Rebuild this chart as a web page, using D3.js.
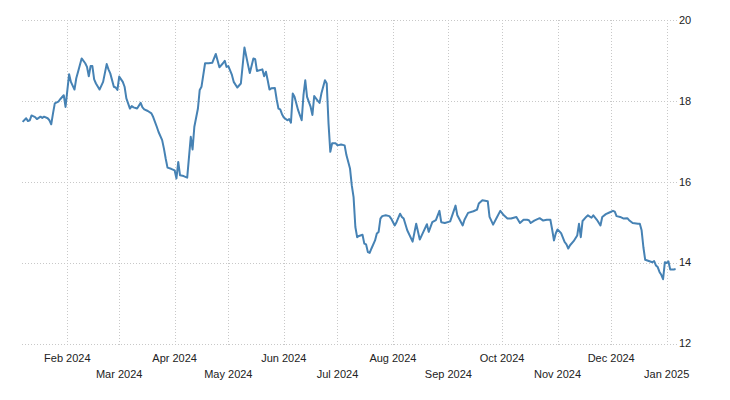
<!DOCTYPE html>
<html>
<head>
<meta charset="utf-8">
<script src="https://cdn.jsdelivr.net/npm/d3@7"></script>
<style>
  html, body { margin: 0; padding: 0; background: #fff; }
  svg { display: block; }
  text { font-family: "Liberation Sans", Arial, sans-serif; font-size: 11px; fill: #222; }
</style>
</head>
<body>
<svg id="chart" width="730" height="400"></svg>
<script>
const dates = [
"2024-01-07","2024-01-09","2024-01-10","2024-01-11","2024-01-12","2024-01-14","2024-01-15","2024-01-17","2024-01-18","2024-01-19",
"2024-01-21","2024-01-22","2024-01-23","2024-01-24","2024-01-25","2024-01-27","2024-01-28","2024-01-30","2024-01-31","2024-02-02",
"2024-02-03","2024-02-05","2024-02-06","2024-02-07","2024-02-09","2024-02-11","2024-02-12","2024-02-13","2024-02-14","2024-02-15",
"2024-02-16","2024-02-17","2024-02-19","2024-02-21","2024-02-23","2024-02-24","2024-02-25","2024-02-27","2024-02-28","2024-02-29",
"2024-03-01","2024-03-03","2024-03-04","2024-03-05","2024-03-07","2024-03-08","2024-03-09","2024-03-11","2024-03-13","2024-03-14",
"2024-03-15","2024-03-17","2024-03-19","2024-03-20","2024-03-22","2024-03-23","2024-03-25","2024-03-26","2024-03-27","2024-03-28",
"2024-03-30","2024-04-01","2024-04-02","2024-04-03","2024-04-04","2024-04-06","2024-04-08","2024-04-10","2024-04-11","2024-04-12",
"2024-04-14","2024-04-15","2024-04-16","2024-04-18","2024-04-20","2024-04-22","2024-04-24","2024-04-26","2024-04-28","2024-04-29",
"2024-04-30","2024-05-01","2024-05-03","2024-05-04","2024-05-06","2024-05-08","2024-05-10","2024-05-12","2024-05-13","2024-05-15",
"2024-05-16","2024-05-17","2024-05-20","2024-05-21","2024-05-22","2024-05-23","2024-05-24","2024-05-25","2024-05-27","2024-05-28",
"2024-05-29","2024-05-30","2024-05-31","2024-06-01","2024-06-03","2024-06-04","2024-06-05","2024-06-06","2024-06-07","2024-06-09",
"2024-06-11","2024-06-12","2024-06-13","2024-06-14","2024-06-16","2024-06-17","2024-06-18","2024-06-20","2024-06-21","2024-06-22",
"2024-06-24","2024-06-25","2024-06-26","2024-06-27","2024-06-28","2024-06-30","2024-07-01","2024-07-03","2024-07-05","2024-07-06",
"2024-07-08","2024-07-09","2024-07-10","2024-07-11","2024-07-12","2024-07-13","2024-07-15","2024-07-16","2024-07-17","2024-07-18",
"2024-07-19","2024-07-20","2024-07-22","2024-07-23","2024-07-24","2024-07-25","2024-07-26","2024-07-28","2024-07-30","2024-07-31",
"2024-08-02","2024-08-03","2024-08-05","2024-08-06","2024-08-07","2024-08-09","2024-08-12","2024-08-14","2024-08-16","2024-08-18",
"2024-08-20","2024-08-21","2024-08-23","2024-08-25","2024-08-27","2024-08-28","2024-08-30","2024-09-02","2024-09-05","2024-09-06",
"2024-09-09","2024-09-10","2024-09-12","2024-09-15","2024-09-17","2024-09-18","2024-09-20","2024-09-23","2024-09-24","2024-09-26",
"2024-09-28","2024-09-30","2024-10-02","2024-10-04","2024-10-06","2024-10-09","2024-10-11","2024-10-13","2024-10-15","2024-10-16",
"2024-10-17","2024-10-19","2024-10-22","2024-10-24","2024-10-26","2024-10-28","2024-10-29","2024-10-30","2024-10-31","2024-11-01",
"2024-11-03","2024-11-05","2024-11-06","2024-11-07","2024-11-08","2024-11-10","2024-11-12","2024-11-13","2024-11-14","2024-11-15",
"2024-11-17","2024-11-18","2024-11-20","2024-11-21","2024-11-23","2024-11-25","2024-11-26","2024-11-28","2024-11-30","2024-12-02",
"2024-12-03","2024-12-04","2024-12-06","2024-12-08","2024-12-10","2024-12-11","2024-12-13","2024-12-16","2024-12-17","2024-12-18",
"2024-12-19","2024-12-20","2024-12-22","2024-12-24","2024-12-25","2024-12-26","2024-12-27","2024-12-28","2024-12-29","2024-12-30",
"2024-12-31","2025-01-01","2025-01-02","2025-01-03","2025-01-05","2025-01-06"
];
const values = [
17.48,17.57,17.50,17.52,17.64,17.60,17.55,17.61,17.58,17.61,
17.57,17.52,17.42,17.69,17.94,17.98,18.04,18.14,17.85,18.66,
18.47,18.28,18.56,18.72,19.05,18.93,18.84,18.61,18.86,18.86,
18.53,18.43,18.28,18.47,18.91,18.78,18.68,18.35,18.33,18.27,
18.60,18.47,18.35,18.06,17.81,17.87,17.84,17.81,17.95,17.84,
17.79,17.75,17.69,17.60,17.36,17.23,17.03,16.82,16.57,16.35,
16.32,16.28,16.08,16.49,16.16,16.14,16.10,17.11,16.80,17.36,
17.81,18.27,18.35,18.93,18.93,18.94,19.16,18.83,18.93,18.99,
18.84,18.86,18.64,18.47,18.33,18.43,19.32,18.89,18.69,19.05,
19.03,18.74,18.78,18.61,18.72,18.51,18.28,18.31,18.32,18.04,
17.81,17.79,17.67,17.59,17.52,17.55,17.46,18.18,18.10,17.77,
17.52,18.14,18.51,18.10,17.85,17.65,18.12,18.00,17.95,18.18,
18.51,18.43,17.44,16.74,16.95,16.95,16.90,16.92,16.90,16.66,
16.33,15.91,15.62,14.88,14.63,14.66,14.69,14.47,14.45,14.26,
14.24,14.35,14.55,14.72,14.76,15.09,15.15,15.17,15.15,15.09,
14.92,15.00,15.21,15.13,15.09,14.80,14.52,14.96,14.57,14.76,
14.95,14.76,15.00,15.05,15.28,15.00,14.98,15.02,15.41,15.17,
14.92,15.06,15.23,15.27,15.31,15.46,15.54,15.52,15.13,14.94,
15.11,15.28,15.17,15.09,15.09,15.13,14.98,15.06,15.06,15.05,
14.98,15.04,15.10,15.04,15.06,15.06,14.82,14.55,14.72,14.82,
14.73,14.51,14.45,14.35,14.43,14.53,14.67,14.96,14.63,15.03,
15.13,15.17,15.11,15.17,15.06,14.92,15.13,15.20,15.24,15.28,
15.26,15.15,15.13,15.09,15.10,15.05,14.98,14.96,14.96,14.80,
14.38,14.07,14.04,14.01,14.04,13.93,13.89,13.77,13.70,13.59,
14.01,13.99,14.03,13.83,13.83,13.84
];
const yTicks = [12, 14, 16, 18, 20];
const xTickDates = ["2024-02-01","2024-03-01","2024-04-01","2024-05-01","2024-06-01","2024-07-01",
                    "2024-08-01","2024-09-01","2024-10-01","2024-11-01","2024-12-01","2025-01-01"];
const xTickLabels = ["Feb 2024","Mar 2024","Apr 2024","May 2024","Jun 2024","Jul 2024",
                     "Aug 2024","Sep 2024","Oct 2024","Nov 2024","Dec 2024","Jan 2025"];

const parse = d3.utcParse("%Y-%m-%d");
const data = dates.map((d, i) => ({ date: parse(d), value: values[i] }));

const svg = d3.select("#chart");
const plotLeft = 22, plotRight = 677, plotTop = 20, plotBottom = 343.5;

const x = d3.scaleUtc()
  .domain(d3.extent(data, d => d.date))
  .range([22.6, 675.6]);
const y = d3.scaleLinear().domain([12, 20]).range([plotBottom, plotTop]);

const grid = svg.append("g");
// horizontal gridlines
grid.selectAll("line.h").data(yTicks).join("line")
  .attr("x1", plotLeft).attr("x2", plotRight)
  .attr("y1", d => Math.round(y(d)) + 0.5).attr("y2", d => Math.round(y(d)) + 0.5)
  .attr("stroke", "#c8c8c8").attr("stroke-width", 1).attr("stroke-dasharray", "1,2");
// vertical gridlines
grid.selectAll("line.v").data(xTickDates).join("line")
  .attr("x1", d => Math.round(x(parse(d))) + 0.5).attr("x2", d => Math.round(x(parse(d))) + 0.5)
  .attr("y1", plotTop).attr("y2", 347)
  .attr("stroke", "#c8c8c8").attr("stroke-width", 1).attr("stroke-dasharray", "1,2");

// y labels
svg.append("g").selectAll("text").data(yTicks).join("text")
  .attr("x", 679).attr("y", d => y(d)).attr("dy", "0.35em")
  .attr("text-anchor", "start")
  .text(d => d);

// x labels (alternating rows)
svg.append("g").selectAll("text").data(xTickDates).join("text")
  .attr("x", d => x(parse(d)))
  .attr("y", (d, i) => i % 2 === 0 ? 361.5 : 377.5)
  .attr("text-anchor", "middle")
  .text((d, i) => xTickLabels[i]);

// line
const line = d3.line().x(d => x(d.date)).y(d => y(d.value));
svg.append("path").datum(data)
  .attr("d", line)
  .attr("fill", "none")
  .attr("stroke", "#4682b4")
  .attr("stroke-width", 2)
  .attr("stroke-linejoin", "round");
</script>
</body>
</html>
